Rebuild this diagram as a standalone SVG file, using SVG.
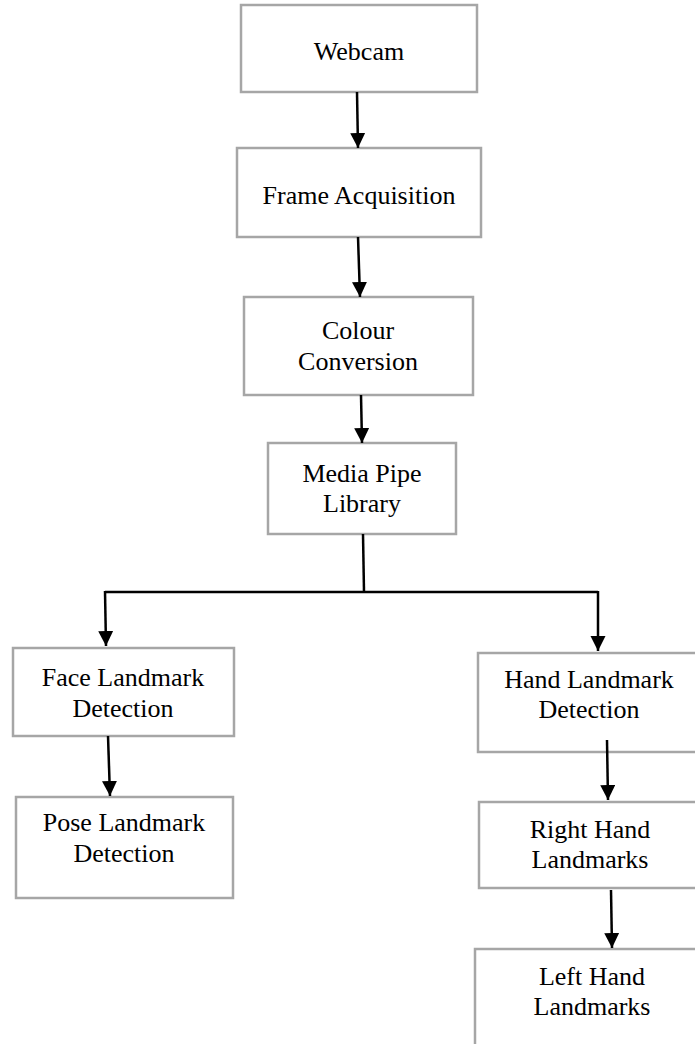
<svg xmlns="http://www.w3.org/2000/svg" width="695" height="1044" viewBox="0 0 695 1044">
<style>
.box{fill:#ffffff;stroke:#a6a6a6;stroke-width:2.5}
.lbl{font-family:"Liberation Serif","Times New Roman",serif;font-size:26px;fill:#000;text-anchor:middle}
.con{stroke:#000;stroke-width:2.5;fill:none}
</style>
<defs>
<marker id="ah" markerUnits="userSpaceOnUse" markerWidth="16" markerHeight="16" refX="15" refY="7.5" orient="auto">
<path d="M0,0 L15,7.5 L0,15 z" fill="#000"/>
</marker>
</defs>
<rect x="0" y="0" width="695" height="1044" fill="#fff"/>
<g id="webcam"><rect class="box" x="241" y="5" width="236" height="87"/><text class="lbl" x="359" y="60">Webcam</text></g>
<g id="frame"><rect class="box" x="237" y="148" width="244" height="89"/><text class="lbl" x="359" y="204">Frame Acquisition</text></g>
<g id="colour"><rect class="box" x="244" y="297" width="229" height="98"/><text class="lbl" x="358" y="339">Colour</text><text class="lbl" x="358" y="370">Conversion</text></g>
<g id="mediapipe"><rect class="box" x="268" y="443" width="188" height="91"/><text class="lbl" x="362" y="482">Media Pipe</text><text class="lbl" x="362" y="512">Library</text></g>
<g id="face"><rect class="box" x="13" y="648" width="221" height="88"/><text class="lbl" x="123" y="686">Face Landmark</text><text class="lbl" x="123" y="717">Detection</text></g>
<g id="pose"><rect class="box" x="16" y="797" width="217" height="101"/><text class="lbl" x="124" y="831">Pose Landmark</text><text class="lbl" x="124" y="862">Detection</text></g>
<g id="hand"><rect class="box" x="478" y="653" width="230" height="99"/><text class="lbl" x="589" y="688">Hand Landmark</text><text class="lbl" x="589" y="718">Detection</text></g>
<g id="righthand"><rect class="box" x="479" y="802" width="230" height="86"/><text class="lbl" x="590" y="838">Right Hand</text><text class="lbl" x="590" y="868">Landmarks</text></g>
<g id="lefthand"><rect class="box" x="475" y="949" width="240" height="110"/><text class="lbl" x="592" y="985">Left Hand</text><text class="lbl" x="592" y="1015">Landmarks</text></g>
<g id="connectors">
<line class="con" x1="357" y1="92" x2="358" y2="148" marker-end="url(#ah)"/>
<line class="con" x1="358" y1="237" x2="360" y2="297" marker-end="url(#ah)"/>
<line class="con" x1="361" y1="395" x2="362" y2="443" marker-end="url(#ah)"/>
<line class="con" x1="363" y1="534" x2="364" y2="592"/>
<polyline class="con" points="105,592 598,592" stroke-width="2"/>
<line class="con" x1="105" y1="591" x2="106" y2="646" marker-end="url(#ah)"/>
<line class="con" x1="598" y1="591" x2="598" y2="651" marker-end="url(#ah)"/>
<line class="con" x1="108" y1="736" x2="110" y2="796" marker-end="url(#ah)"/>
<line class="con" x1="607" y1="740" x2="608" y2="800" marker-end="url(#ah)"/>
<line class="con" x1="611" y1="890" x2="612" y2="948" marker-end="url(#ah)"/>
</g>
</svg>
